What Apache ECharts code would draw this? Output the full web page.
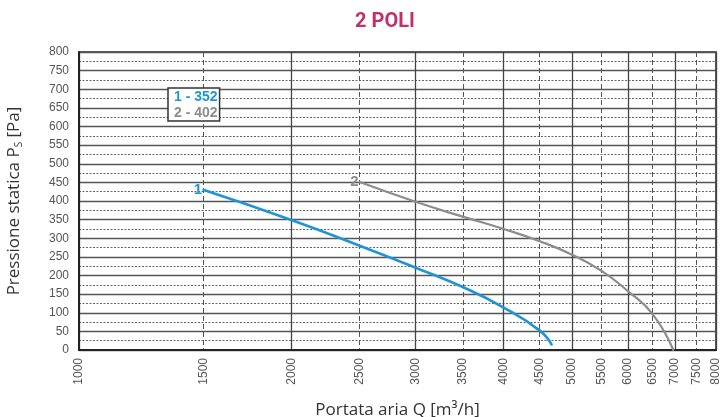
<!DOCTYPE html>
<html>
<head>
<meta charset="utf-8">
<script src="https://cdn.jsdelivr.net/npm/echarts@6/dist/echarts.min.js"></script>
<style>
  html, body { margin: 0; padding: 0; background: #ffffff; }
  #chart { width: 722px; height: 417px; }
</style>
</head>
<body>
<div id="chart"></div>
<script>
// Fan curves, 2-pole motors: static pressure vs air flow
const title = '2 POLI';
const seriesNames = ['1 - 352', '2 - 402'];
const curveTags = ['1', '2'];
const seriesColors = ['#1f95d8', '#8c8c8c'];

// Air flow Q [m3/h] and static pressure Ps [Pa]
const flow1 = [1500, 2000, 2500, 3000, 3500, 4000, 4500, 4680];
const pres1 = [430, 349, 280, 221, 169, 114, 52, 14];
const flow2 = [2500, 3000, 3500, 4000, 4500, 5000, 5500, 6000, 6500, 6960];
const pres2 = [451, 398, 358, 325, 292, 256, 213, 158, 97, 0];

// Axis ticks
const xMajorTicks = [1000, 2000, 3000, 4000, 5000, 6000, 7000, 8000];
const xMinorTicks = [1500, 2500, 3500, 4500, 5500, 6500, 7500];
const xLabelTicks = [1000, 1500, 2000, 2500, 3000, 3500, 4000, 4500, 5000, 5500, 6000, 6500, 7000, 7500, 8000];
const yMin = 0, yMax = 800, yStep = 50;

const toPairs = (xs, ys) => xs.map((x, i) => [x, ys[i]]);

const chart = echarts.init(document.getElementById('chart'), null, { renderer: 'canvas' });

function curve(idx, xs, ys, width) {
  return {
    name: seriesNames[idx],
    type: 'line',
    smooth: 0.5,
    symbol: 'circle',
    symbolSize: 2,
    showSymbol: true,
    xAxisIndex: 0,
    data: toPairs(xs, ys).map((p, i) => i === 0 ? {
      value: p,
      label: {
        show: true, position: 'left', distance: 0, formatter: curveTags[idx],
        color: seriesColors[idx], fontWeight: 'bold', fontSize: 15,
        fontFamily: 'Liberation Sans, Arial'
      }
    } : p),
    lineStyle: { color: seriesColors[idx], width: width },
    itemStyle: { color: seriesColors[idx] },
    emphasis: { disabled: true },
    z: 5
  };
}

chart.setOption({
  animation: false,
  backgroundColor: '#ffffff',
  title: {
    text: title,
    left: 380, top: 7, textAlign: 'center',
    textStyle: {
      color: '#c0306a', fontSize: 20, fontWeight: 'bold',
      fontFamily: 'Liberation Sans Narrow, Roboto, Arial'
    }
  },
  legend: {
    data: seriesNames.map((n, i) => ({ name: n, textStyle: { color: seriesColors[i] } })),
    orient: 'vertical',
    left: 168, top: 88,
    icon: 'none',
    itemWidth: 0, itemHeight: 0, itemGap: 2,
    padding: [2, 2, 1, 1],
    backgroundColor: '#ffffff',
    borderColor: '#333333', borderWidth: 1.5,
    selectedMode: false,
    textStyle: {
      fontSize: 14, fontWeight: 'bold',
      fontFamily: 'Liberation Sans Narrow, Liberation Sans, Arial'
    }
  },
  grid: {
    left: 79, right: 6, top: 52, bottom: 67,
    outerBoundsMode: 'none',
    containLabel: false,
    show: true, borderColor: '#222222', borderWidth: 1.5,
    backgroundColor: 'transparent'
  },
  xAxis: [{
    type: 'log',
    min: 1000, max: 8000,
    name: 'Portata aria Q [m³/h]',
    nameLocation: 'middle', nameGap: 52,
    nameTextStyle: { color: '#333333', fontSize: 17, fontFamily: 'Open Sans, Noto Sans, Arial' },
    axisLine: { show: true, lineStyle: { color: '#222222', width: 2 } },
    axisTick: { show: false, customValues: xMajorTicks },
    axisLabel: {
      customValues: xLabelTicks,
      rotate: 90, margin: 8, color: '#555555', fontSize: 12,
      fontFamily: 'Liberation Sans, Arial',
      formatter: v => String(Math.round(v))
    },
    splitLine: { show: true, lineStyle: { color: '#444444', width: 1.3, type: 'solid' } }
  }, {
    type: 'log',
    min: 1000, max: 8000,
    position: 'bottom',
    axisLine: { show: false },
    axisTick: { show: false, customValues: xMinorTicks },
    axisLabel: { show: false },
    splitLine: { show: true, lineStyle: { color: '#555555', width: 1, type: [5, 3] } }
  }],
  yAxis: {
    type: 'value',
    min: yMin, max: yMax, interval: yStep,
    name: 'Pressione statica P{s|S} [Pa]',
    nameLocation: 'middle', nameGap: 55, nameRotate: 90,
    nameTextStyle: {
      color: '#333333', fontSize: 17, fontFamily: 'Open Sans, Noto Sans, Arial',
      rich: { s: { fontSize: 10, verticalAlign: 'bottom', padding: [9, 0, 0, 0], color: '#333333', fontFamily: 'Open Sans, Noto Sans, Arial' } }
    },
    axisLine: { show: true, lineStyle: { color: '#222222', width: 2 } },
    axisTick: { show: false },
    axisLabel: { color: '#555555', fontSize: 12, margin: 10, fontFamily: 'Liberation Sans, Arial' },
    splitLine: { show: true, lineStyle: { color: '#555555', width: 1.3 } },
    minorTick: { show: false, splitNumber: 2 },
    minorSplitLine: { show: true, lineStyle: { color: '#666666', width: 1, type: [2, 1.5] } }
  },
  series: [
    curve(0, flow1, pres1, 2.6),
    curve(1, flow2, pres2, 2.2)
  ]
});
</script>
</body>
</html>
